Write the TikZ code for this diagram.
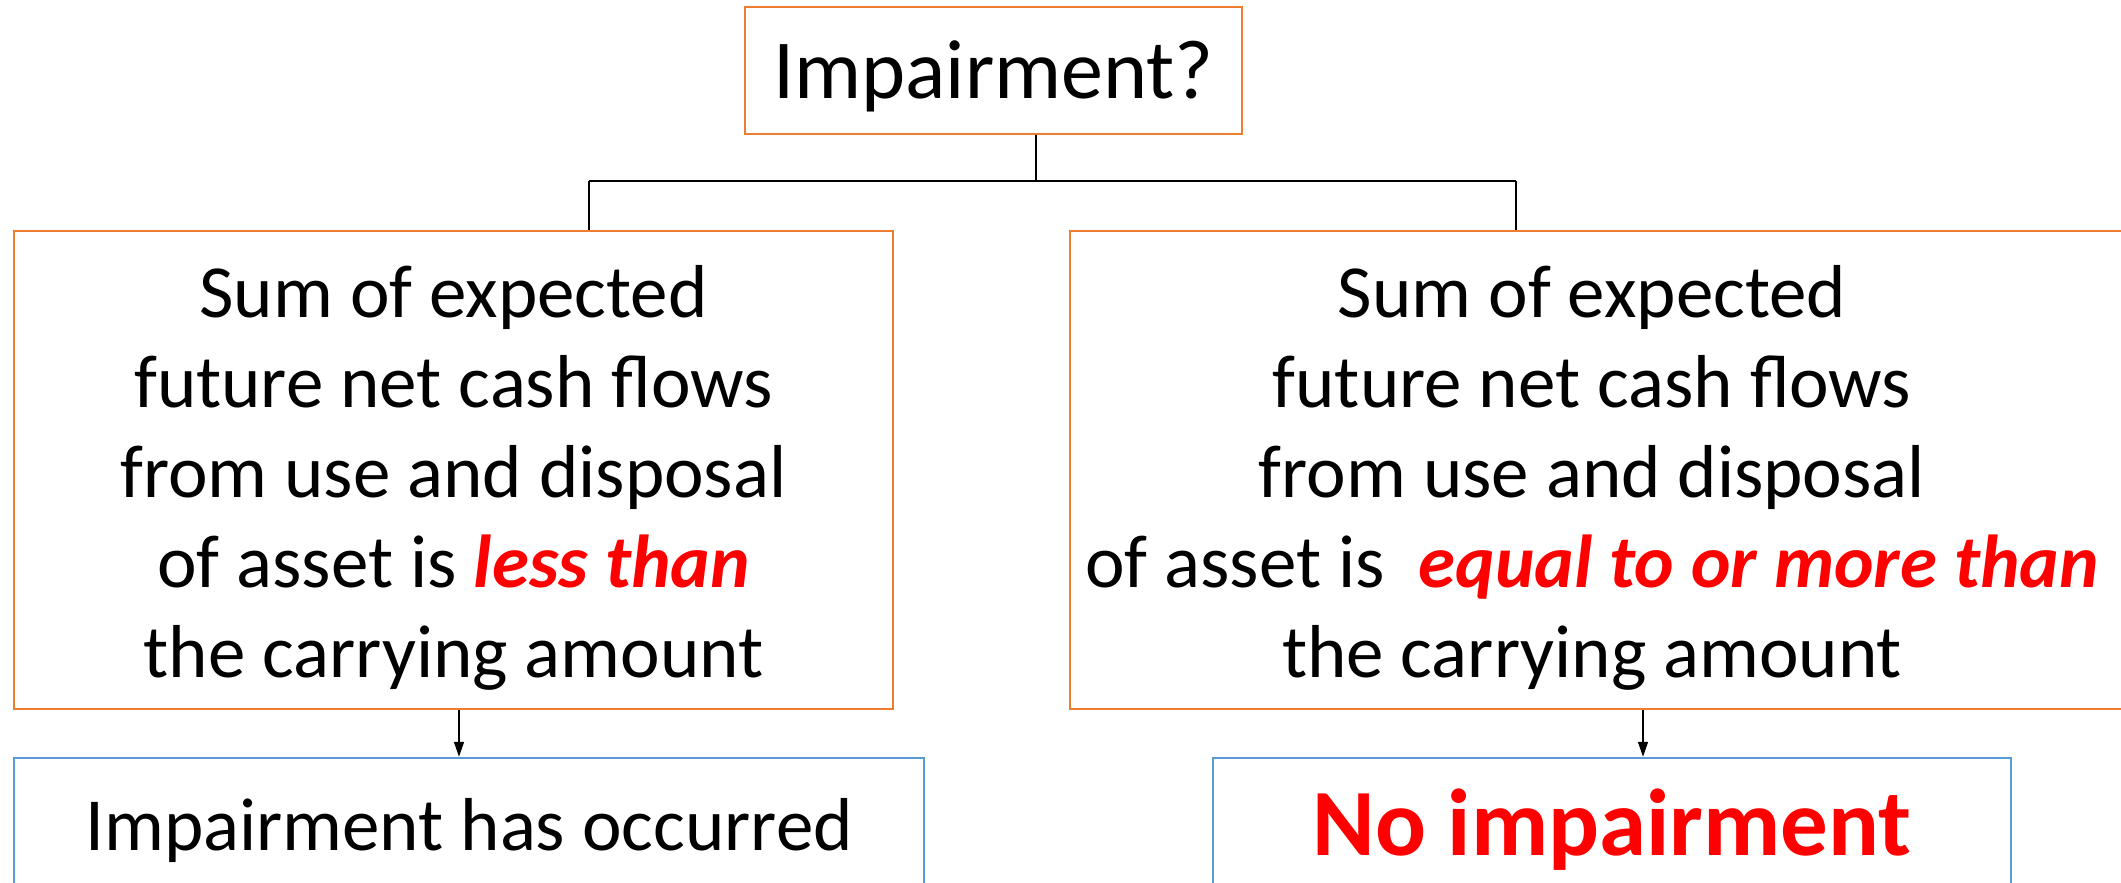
\documentclass[tikz,border=0pt]{standalone}
\usepackage{fontspec}
\setmainfont{Carlito}
\usetikzlibrary{arrows.meta}
\definecolor{boxorange}{HTML}{ED7D31}
\definecolor{boxblue}{HTML}{5B9BD5}
\definecolor{hot}{HTML}{FF0000}
\newcommand{\hilite}[1]{\textcolor{hot}{\bfseries\itshape #1}}

\begin{document}
\begin{tikzpicture}[x=1pt,y=-1pt,
  orangebox/.style={draw=boxorange,line width=2.5pt,inner sep=0pt},
  bluebox/.style={draw=boxblue,line width=2.5pt,inner sep=0pt},
  link/.style={draw=black,line width=1.6pt},
  arr/.style={link,-{Triangle[length=15pt,width=10pt]}},
  body/.style={align=center,inner sep=0pt,font=\fontsize{75}{90}\selectfont}]

\path[use as bounding box] (0,0) rectangle (2121,883);
\clip (0,0) rectangle (2121,883);

% boxes
\node[orangebox,minimum width=497pt,minimum height=127pt] (T) at (993.5,70.5) {};
\node[orangebox,minimum width=879pt,minimum height=478pt] (L) at (453.5,470) {};
\node[orangebox,minimum width=1053pt,minimum height=478pt] (R) at (1596.5,470) {};
\node[bluebox,minimum width=910pt,minimum height=192pt] (BL) at (469,854) {};
\node[bluebox,minimum width=798pt,minimum height=192pt] (BR) at (1612,854) {};

% texts
\node[anchor=base,inner sep=0pt,font=\fontsize{84}{100}\selectfont] (Tt) at (993.5,99) {Impairment?};
\node[body] (Lt) at (453.5,478) {Sum of expected\\future net cash flows\\from use and disposal\\of asset is \hilite{less than}\\the carrying amount};
\node[body] (Rt) at (1592,478) {Sum of expected\\future net cash flows\\from use and disposal\\of asset is\ \ \hilite{equal to or more than}\\the carrying amount};
\node[anchor=base,inner sep=0pt,font=\fontsize{75}{90}\selectfont] (BLt) at (469,850) {Impairment has occurred};
\node[anchor=base,inner sep=0pt,text=hot,font=\fontsize{95}{110}\selectfont\bfseries] (BRt) at (1612,855) {No impairment};

% tree connector from the question to both branches
\coordinate (J) at (1036,181);
\coordinate (LJ) at (589,181);
\coordinate (RJ) at (1516,181);
\draw[link] (J |- T.south) -- (J);
\draw[link] (LJ) -- (RJ);
\draw[link] (LJ) -- (LJ |- L.north);
\draw[link] (RJ) -- (RJ |- R.north);

% outcome arrows
\coordinate (LA) at (459,0);
\coordinate (RA) at (1643,0);
\draw[arr] (LA |- L.south) -- (LA |- BL.north);
\draw[arr] (RA |- R.south) -- (RA |- BR.north);
\end{tikzpicture}
\end{document}
